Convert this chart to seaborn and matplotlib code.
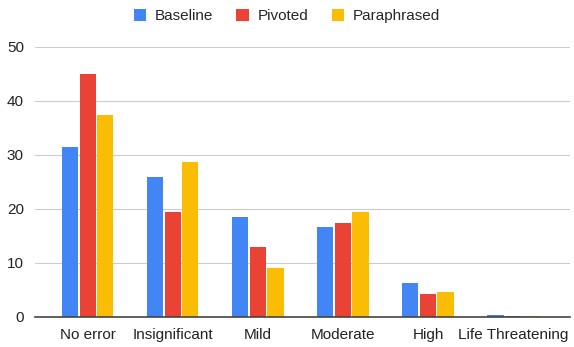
import pandas as pd
import matplotlib.pyplot as plt
import seaborn as sns

# 값
categories = ['No error', 'Insignificant', 'Mild', 'Moderate', 'High', 'Life Threatening']
baseline = [31.5, 25.9, 18.6, 16.6, 6.3, 0.45]
pivoted = [45.0, 19.4, 13.0, 17.5, 4.3, 0.15]
paraphrased = [37.5, 28.7, 9.1, 19.4, 4.6, 0.15]
series_names = ['Baseline', 'Pivoted', 'Paraphrased']
colors = ['#4285F4', '#EA4335', '#FBBC04']

df = pd.DataFrame({
    'category': categories * 3,
    'value': baseline + pivoted + paraphrased,
    'series': [s for s in series_names for _ in categories],
})

sns.set_theme(style='white')
plt.rcParams['font.family'] = ['Liberation Sans', 'DejaVu Sans']

fig = plt.figure(figsize=(5.74, 3.47), dpi=100)
ax = fig.add_axes([35 / 574, 1 - 317 / 347, 535 / 574, 270 / 347])

sns.barplot(data=df, x='category', y='value', hue='series', order=categories,
            hue_order=series_names, palette=colors, width=0.62, gap=0.08,
            saturation=1, edgecolor='none', linewidth=0, ax=ax, zorder=3)

ax.set_ylim(0, 50)
ax.set_yticks(range(0, 51, 10))
ax.set_xlim(-0.62, 5.67)
ax.grid(axis='y', color='#cccccc', linewidth=0.8, zorder=0)
ax.set_xlabel('')
ax.set_ylabel('')
for side in ['left', 'right', 'top']:
    ax.spines[side].set_visible(False)
ax.spines['bottom'].set_color('#444444')
ax.spines['bottom'].set_linewidth(1.2)
ax.spines['bottom'].set_zorder(5)
ax.tick_params(axis='both', length=0, labelsize=11, colors='#222222')
ax.tick_params(axis='y', pad=8)
ax.tick_params(axis='x', pad=8)

handles, labels = ax.get_legend_handles_labels()
ax.legend_.remove()
fig.legend(handles, labels, loc='center', bbox_to_anchor=(0.5, 1 - 16 / 347),
           ncol=3, frameon=False, fontsize=11, handlelength=0.8, handleheight=0.8,
           handletextpad=0.6, columnspacing=1.5)

fig.savefig('out.png', dpi=100)
